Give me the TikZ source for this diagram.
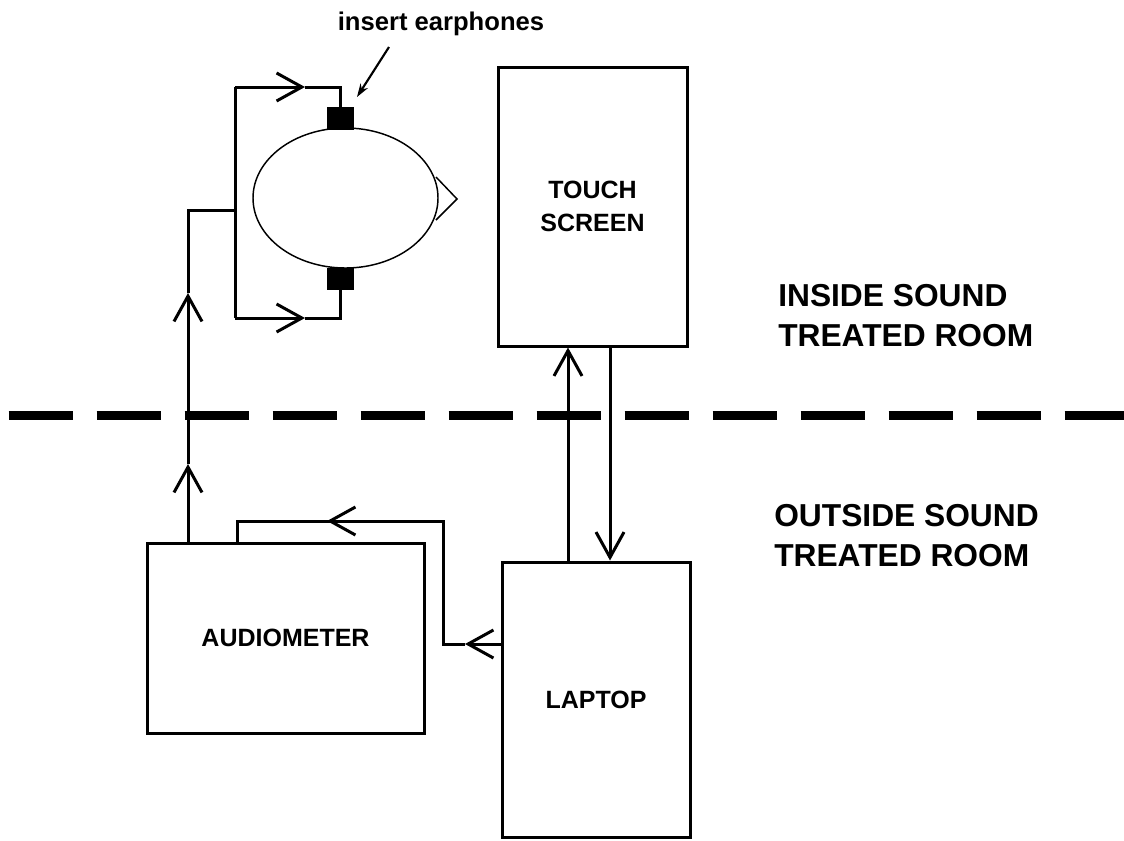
\documentclass[tikz,border=0pt]{standalone}
\usepackage{fontspec}
\setmainfont{Liberation Sans}
\usetikzlibrary{arrows.meta,calc,shapes.geometric}

\tikzset{
  box/.style={draw,line width=2.25pt,inner sep=0pt,align=center,
    font=\fontsize{18.75}{24.75}\selectfont\bfseries},
  roomlabel/.style={anchor=west,align=left,inner sep=0pt,
    font=\fontsize{23.8}{30}\selectfont\bfseries},
  wire/.style={line width=2.25pt},
  barb/.style={wire,-{Straight Barb[length=19pt,width=21pt]}},
  plug/.style={fill,inner sep=0pt,minimum width=27*0.75pt},
}

\begin{document}
\begin{tikzpicture}[x=0.75pt,y=-0.75pt,line join=miter]
  \useasboundingbox (0,0) rectangle (1124,840);
  % wall of the sound treated room
  \draw[line width=6.75pt,dash pattern=on 48pt off 18pt] (8.6,415) -- (1124,415);

  % devices
  \node[box,minimum width=189*0.75pt,minimum height=279*0.75pt] (touch) at (592.5,206.5) {TOUCH\\SCREEN};
  \node[box,minimum width=188*0.75pt,minimum height=275*0.75pt] (laptop) at (596,699.5) {LAPTOP};
  \node[box,minimum width=277*0.75pt,minimum height=190*0.75pt] (audio) at (285.5,638) {AUDIOMETER};

  % listener with insert earphones
  \draw[line width=1.1pt] (436,177) -- (457,199) -- (436,220);
  \node[draw,ellipse,fill=white,line width=1.1pt,inner sep=0pt,
    minimum width=185*0.75pt,minimum height=140*0.75pt] (head) at (345.5,198) {};
  \node[plug,minimum height=23*0.75pt] (earT) at (340.5,118.5) {};
  \node[plug,minimum height=22*0.75pt] (earB) at (340.5,279) {};

  \node[font=\fontsize{19.2}{22}\selectfont\bfseries] (ins) at (441,24) {insert earphones};
  \coordinate (insA) at (389,47);
  \coordinate (insB) at (357,97);
  \draw[line width=1.6pt,-{Stealth[length=10pt,width=6.5pt]}] (insA) -- (insB);

  % audiometer -> earphones
  \coordinate (au1) at (188,543);
  \coordinate (au2) at (188,464);
  \coordinate (au3) at (188,293);
  \coordinate (au4) at (188,210);
  \coordinate (lp1) at (235,210);
  \coordinate (lpT) at (235,87);
  \coordinate (lpB) at (235,318);
  \coordinate (tT) at (305,87);
  \coordinate (tB) at (305,318);
  \draw[barb] (au1) -- (au2);
  \draw[barb] (au2) -- (au3);
  \draw[wire] (au3) -- (au4) -- (lp1);
  \draw[wire] (lpT) -- (lpB);
  \draw[barb] (lpT) -- (tT);
  \draw[wire] (tT) -- (earT.north |- tT) -- (earT.north);
  \draw[barb] (lpB) -- (tB);
  \draw[wire] (tB) -- (earB.south |- tB) -- (earB.south);

  % laptop -> audiometer
  \coordinate (la1) at (502,644);
  \coordinate (la2) at (465,644);
  \coordinate (la3) at (443,644);
  \coordinate (la4) at (443,521);
  \coordinate (la5) at (327,521);
  \coordinate (la6) at (237,521);
  \coordinate (la7) at (237,543);
  \draw[barb] (la1) -- (la2);
  \draw[wire] (la2) -- (la3) -- (la4) -- (la5);
  \draw[barb] (la4) -- (la5);
  \draw[wire] (la5) -- (la6) -- (la7);

  % laptop <-> touch screen
  \draw[barb] ($(laptop.north)+(-28,0)$) -- ($(touch.south)+(-24.5,0)$);
  \draw[barb] ($(touch.south)+(17.5,0)$) -- ($(laptop.north)+(14,0)$);

  \node[roomlabel] (inside) at (778,316) {INSIDE SOUND\\TREATED ROOM};
  \node[roomlabel] (outside) at (774,536) {OUTSIDE SOUND\\TREATED ROOM};
\end{tikzpicture}
\end{document}
